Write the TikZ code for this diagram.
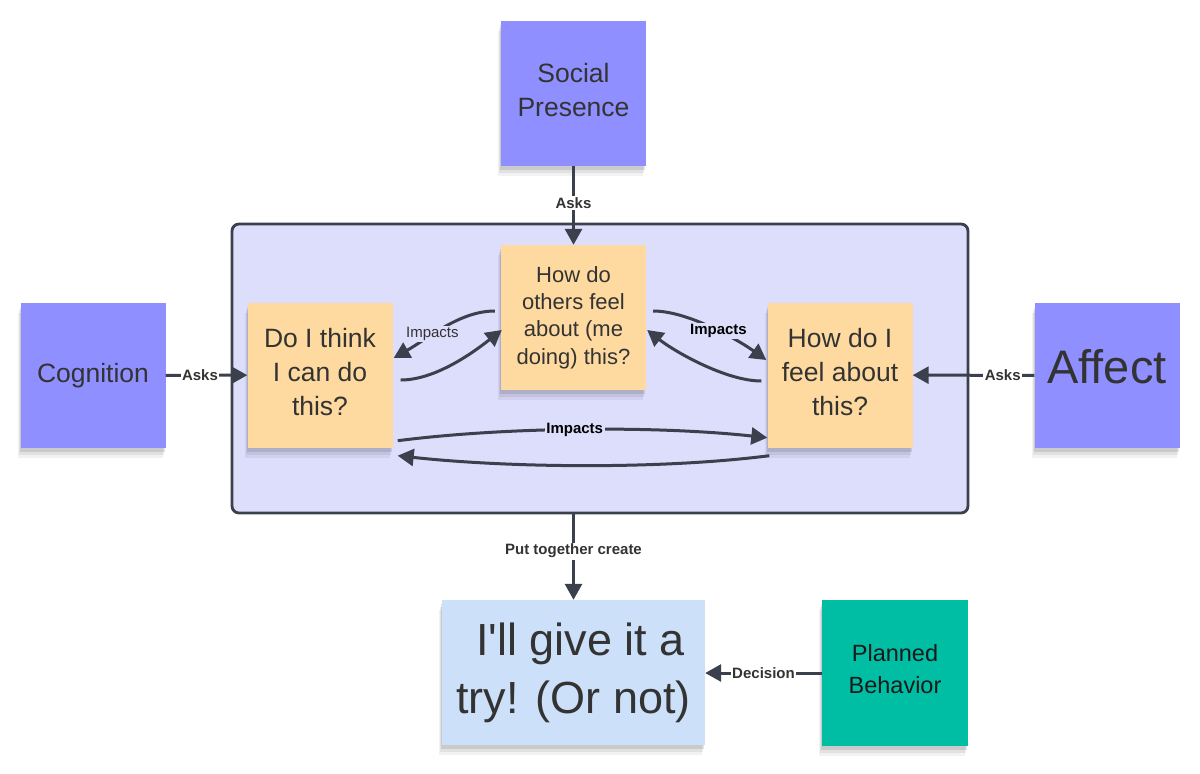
\documentclass[tikz,border=0pt]{standalone}
\usepackage{fontspec}
\setmainfont{Liberation Sans}[Ligatures=TeXOff]
\usetikzlibrary{arrows.meta,shadows}
\definecolor{purp}{RGB}{143,143,255}
\definecolor{framebg}{RGB}{221,221,252}
\definecolor{framebd}{RGB}{58,64,76}
\definecolor{orng}{RGB}{254,218,160}
\definecolor{lblue}{RGB}{204,224,250}
\definecolor{teal2}{RGB}{0,190,164}
\definecolor{txt}{RGB}{51,51,51}
\definecolor{conncol}{RGB}{58,64,76}
\newcommand\liftup[2]{\raisebox{#1}[\height][\depth]{\begin{tabular}{@{}c@{}}#2\end{tabular}}}
\begin{document}
\begin{tikzpicture}[x=1pt,y=-1pt,
  shad/.style={
    drop shadow={shadow xshift=-3pt,shadow yshift=-10pt,opacity=.05,fill=black},
    drop shadow={shadow xshift=-2pt,shadow yshift=-7pt,opacity=.07,fill=black},
    drop shadow={shadow xshift=-1pt,shadow yshift=-4pt,opacity=.1,fill=black}},
  sticky/.style={shad,inner sep=0pt,align=center,text=txt},
  pbox/.style={sticky,fill=purp,minimum width=145pt,minimum height=145pt},
  obox/.style={sticky,fill=orng,minimum width=145pt,minimum height=145pt},
  frame/.style={draw=framebd,line width=2.8pt,fill=framebg,rounded corners=7pt,inner sep=0pt},
  conn/.style={draw=conncol,line width=3pt,-{Triangle[length=16pt,width=17pt]}},
  lbl/.style={font=\fontsize{15}{18}\selectfont\bfseries,text=txt,fill=white,inner sep=1.5pt},
  ilbl/.style={lbl,fill=framebg},
  big/.style={font=\fontsize{26.5}{34}\selectfont},
]
\useasboundingbox (0,0) rectangle (1200,774);

\node[frame,minimum width=736pt,minimum height=289pt] (frame) at (600,368.5) {};

\node[pbox,big] (social) at (573.5,93) {\liftup{0pt}{Social\\Presence}};
\node[pbox,big] (cog) at (93,375.5) {Cognition};
\node[pbox,font=\fontsize{47}{54}\selectfont] (affect) at (1107,375.5) {\raisebox{9pt}[\height][\depth]{Affect}};

\node[obox,big] (doi) at (320,375) {\liftup{0pt}{Do I think\\I can do\\this?}};
\node[obox,font=\fontsize{22}{27.4}\selectfont] (others) at (573.5,317.5) {How do\\others feel\\about (me\\doing) this?};
\node[obox,big] (feel) at (840,375) {\liftup{0pt}{How do I\\feel about\\this?}};

\node[sticky,fill=lblue,minimum width=263pt,minimum height=145pt,font=\fontsize{45}{58}\selectfont] (result) at (573.5,672.5) {\liftup{0pt}{\hspace{14pt}I'll give it a\\try! (Or not)}};
\node[sticky,fill=teal2,text=black!90,minimum width=146pt,minimum height=146pt,font=\fontsize{23.5}{32}\selectfont] (planned) at (895,673) {\liftup{1.5pt}{Planned\\Behavior}};

% straight connectors
\draw[conn] (social) -- node[lbl,pos=0.475]{Asks} (others);
\draw[conn] (cog) -- node[lbl,pos=0.42]{Asks} (doi);
\draw[conn] (affect) -- node[lbl,pos=0.26]{Asks} (feel);
\draw[conn] (result.north |- frame.south) -- node[lbl,pos=0.43]{Put together create} (result.north);
\draw[conn] (planned.west) -- node[lbl,pos=0.5]{Decision} (result.east |- planned.west);

% curved connectors
\draw[conn] ([shift={(-6,-6.5)}]others.west) .. controls +(-35,0) and +(35,-20) .. node[ilbl,pos=0.62,font=\fontsize{15}{18}\selectfont]{Impacts} ([shift={(1,-17)}]doi.east);
\draw[conn] ([shift={(8,5)}]doi.east) .. controls +(35,0) and +(-28,22) .. ([shift={(1,12.5)}]others.west);
\draw[conn] ([shift={(7,-6.5)}]others.east) .. controls +(35,0) and +(-28,-20) .. node[ilbl,pos=0.55,text=black]{Impacts} ([shift={(-1,-15)}]feel.west);
\draw[conn] ([shift={(-6,6)}]feel.west) .. controls +(-35,0) and +(28,22) .. ([shift={(1,12.5)}]others.east);
\draw[conn] ([shift={(5,-7)}]doi.south east) .. controls +(110,-14) and +(-110,-12) .. node[ilbl,pos=0.48,text=black]{Impacts} ([shift={(0,-10)}]feel.south west);
\draw[conn] ([shift={(2,8)}]feel.south west) .. controls +(-110,14) and +(110,12) .. ([shift={(5,8)}]doi.south east);
\end{tikzpicture}
\end{document}
